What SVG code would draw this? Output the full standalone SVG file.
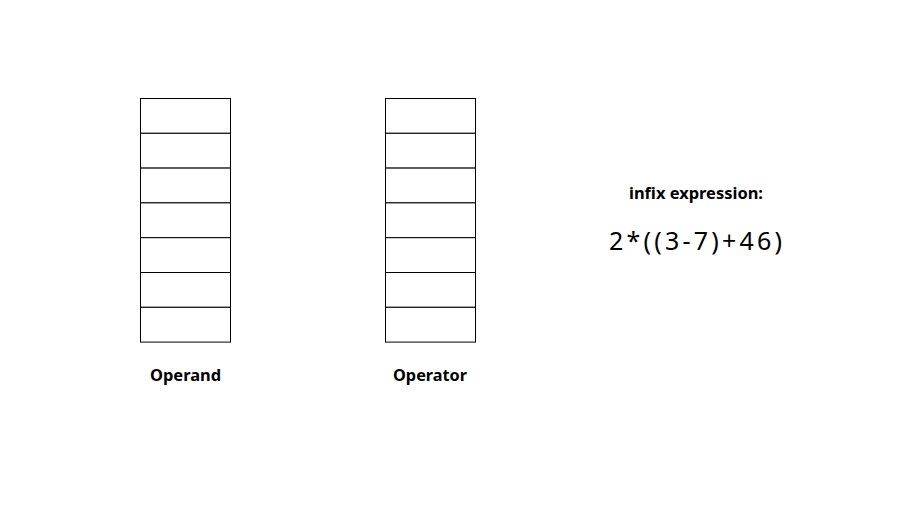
<svg xmlns="http://www.w3.org/2000/svg" width="911" height="512" viewBox="0 0 911 512">
<style>
.cell{fill:#fff;stroke:#000;stroke-width:1}
.lbl{font-family:"Noto Sans","Open Sans",sans-serif;font-weight:bold;font-size:16px;fill:#000;text-anchor:middle}
.expr{font-family:"Noto Sans","Open Sans",sans-serif;font-size:25px;fill:#000;text-anchor:middle}
</style>
<rect width="911" height="512" fill="#fff"/>
<defs>
<g id="stack">
<rect class="cell" x="0" y="0" width="90" height="34.8"/>
<rect class="cell" x="0" y="34.8" width="90" height="34.8"/>
<rect class="cell" x="0" y="69.6" width="90" height="34.8"/>
<rect class="cell" x="0" y="104.4" width="90" height="34.8"/>
<rect class="cell" x="0" y="139.2" width="90" height="34.8"/>
<rect class="cell" x="0" y="174" width="90" height="34.8"/>
<rect class="cell" x="0" y="208.8" width="90" height="34.8"/>
</g>
</defs>
<g id="operand">
<use href="#stack" x="140.5" y="98.5"/>
<text class="lbl" x="185.5" y="381" textLength="71" lengthAdjust="spacingAndGlyphs">Operand</text>
</g>
<g id="operator">
<use href="#stack" x="385.5" y="98.5"/>
<text class="lbl" x="430" y="381" textLength="74" lengthAdjust="spacingAndGlyphs">Operator</text>
</g>
<g id="infix">
<text class="lbl" x="696" y="199" textLength="134" lengthAdjust="spacingAndGlyphs">infix expression:</text>
<text class="expr" x="695.5" y="250" textLength="173" lengthAdjust="spacing">2*((3-7)+46)</text>
</g>
<g id="connectors"/>
</svg>
